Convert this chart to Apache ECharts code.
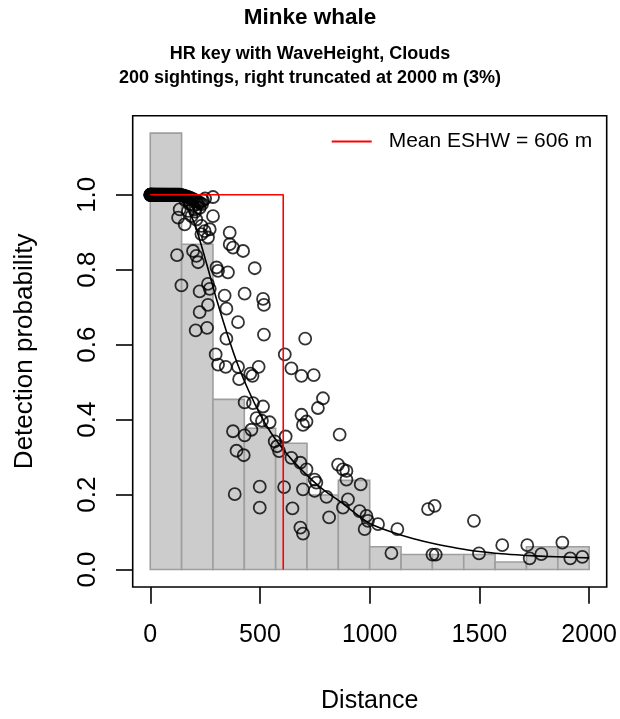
<!DOCTYPE html>
<html>
<head>
<meta charset="utf-8">
<script src="https://cdn.jsdelivr.net/npm/echarts@6/dist/echarts.min.js"></script>
<style>html,body{margin:0;padding:0;background:#fff}#c{width:620px;height:719px}</style>
</head>
<body>
<div id="c"></div>
<script>
// ---- Data ----
var titleText = 'Minke whale';
var subtitleLines = ['HR key with WaveHeight, Clouds', '200 sightings, right truncated at 2000 m (3%)'];
var legendText = 'Mean ESHW = 606 m';
var xTicks = [0, 500, 1000, 1500, 2000];
var yTicks = [0, 0.2, 0.4, 0.6, 0.8, 1.0];

// histogram bins (start, end) and scaled heights
var binStart = [0, 142.86, 285.71, 428.57, 571.43, 714.29, 857.14, 1000, 1142.86, 1285.71, 1428.57, 1571.43, 1714.29, 1857.14];
var binEnd   = [142.86, 285.71, 428.57, 571.43, 714.29, 857.14, 1000, 1142.86, 1285.71, 1428.57, 1571.43, 1714.29, 1857.14, 2000];
var binHeight = [1.1645, 0.868, 0.454, 0.377, 0.337, 0.199, 0.238, 0.061, 0.040, 0.040, 0.040, 0.020, 0.061, 0.061];

// mean ESHW marker
var eshwX = [0, 606, 606];
var eshwY = [1, 1, 0];

// fitted average detection function
var curveDist = [0, 50, 100, 150, 200, 250, 300, 350, 400, 450, 500, 550, 600, 650, 700, 750, 800, 850, 900, 950, 1000, 1100, 1200, 1300, 1400, 1500, 1600, 1700, 1800, 1900, 2000];
var curveProb = [1.0, 1.0, 0.995, 0.98, 0.925, 0.83, 0.725, 0.63, 0.545, 0.475, 0.415, 0.365, 0.325, 0.29, 0.26, 0.232, 0.208, 0.188, 0.166, 0.143, 0.123, 0.1, 0.082, 0.068, 0.057, 0.048, 0.042, 0.038, 0.035, 0.033, 0.031];

// observed sightings: distance and estimated detection probability
var pointDist = [
 0,0,1,2,3,5,6,8,9,11,13,15,17,19,21,24,26,28,31,33,36,38,41,44,46,49,52,55,58,61,64,67,70,73,77,80,84,88,92,95,99,103,107,111,115,119,123,127,131,136,140,145,150,155,160,165,170,175,181,187,193,199,206,213,220,228,236,
 180,195,215,240,250,225,160,205,
 286,286,127,157,134,172,203,188,210,233,248,271,233,263,362,362,377,423,476,122,195,210,218,302,309,354,142,225,263,271,339,430,514,225,263,207,259,347,518,400,518,347,298,309,344,400,405,456,466,494,613,706,643,689,430,468,514,484,509,544,377,430,461,393,426,567,578,587,617,643,684,712,689,696,712,745,787,764,863,856,878,894,749,757,749,696,894,959,803,815,901,878,954,985,992,977,1038,1126,1099,1266,1296,1286,1301,1475,1498,1604,1718,1729,1782,1878,1914,1969,385,499,499,610,648,684,696
];
var pointProb = [
 1,1,1,1,1,1,1,1,1,1,1,1,1,1,1,1,1,1,1,1,1,1,1,1,1,1,1,1,1,1,1,1,1,1,1,1,1,1,1,1,1,1,1,1,1,1,1,1,1,1,0.999,0.998,0.998,0.997,0.996,0.995,0.994,0.993,0.992,0.99,0.989,0.987,0.985,0.983,0.98,0.978,0.975,
 0.975,0.97,0.975,0.985,0.99,0.965,0.985,0.955,
 0.994,0.943,0.939,0.921,0.961,0.957,0.961,0.943,0.934,0.917,0.903,0.908,0.895,0.886,0.899,0.868,0.859,0.85,0.804,0.839,0.85,0.837,0.82,0.806,0.797,0.793,0.758,0.742,0.762,0.749,0.731,0.736,0.722,0.687,0.706,0.638,0.645,0.696,0.706,0.66,0.627,0.616,0.574,0.547,0.541,0.541,0.508,0.523,0.517,0.541,0.574,0.616,0.537,0.517,0.446,0.444,0.435,0.404,0.397,0.393,0.369,0.358,0.373,0.317,0.305,0.342,0.329,0.316,0.355,0.298,0.285,0.267,0.413,0.386,0.395,0.519,0.457,0.431,0.36,0.28,0.267,0.263,0.24,0.232,0.21,0.214,0.24,0.227,0.194,0.139,0.187,0.165,0.156,0.143,0.13,0.108,0.121,0.108,0.044,0.161,0.17,0.04,0.04,0.13,0.043,0.065,0.065,0.03,0.041,0.072,0.03,0.034,0.201,0.221,0.165,0.22,0.163,0.112,0.096
];

// ---- Build chart ----
var FONT = 'Liberation Sans, Arial, Helvetica, sans-serif';
var histData = binStart.map(function (s, i) { return [s, binEnd[i], binHeight[i]]; });
var points = pointDist.map(function (d, i) { return [d, pointProb[i]]; });
var curve = curveDist.map(function (d, i) { return [d, curveProb[i]]; });
var eshw = eshwX.map(function (d, i) { return [d, eshwY[i]]; });

var chart = echarts.init(document.getElementById('c'), null, {renderer: 'canvas'});
chart.setOption({
  animation: false,
  backgroundColor: '#ffffff',
  title: [
    {text: titleText, left: 'center', top: 1,
     textStyle: {fontFamily: FONT, fontSize: 22.5, fontWeight: 'bold', color: '#000'}},
    {text: subtitleLines[0], left: 'center', top: 45, padding: 0,
     textStyle: {fontFamily: FONT, fontSize: 18, fontWeight: 'bold', color: '#000'}},
    {text: subtitleLines[1], left: 'center', top: 69, padding: 0,
     textStyle: {fontFamily: FONT, fontSize: 18, fontWeight: 'bold', color: '#000'}}
  ],
  legend: {
    data: [legendText],
    left: 331.7, top: 131, padding: 0,
    icon: 'rect', itemWidth: 40, itemHeight: 2,
    textStyle: {fontFamily: FONT, fontSize: 21, color: '#000', padding: [0, 0, 0, 12]},
    selectedMode: false
  },
  grid: {left: 132.7, top: 115.7, width: 474, height: 473.3, show: true, borderColor: '#000', borderWidth: 1.6, containLabel: false},
  xAxis: {
    type: 'value', min: -80, max: 2080,
    name: 'Distance', nameLocation: 'middle', nameGap: 102,
    nameTextStyle: {fontFamily: FONT, fontSize: 25, color: '#000'},
    axisLine: {show: false, onZero: false},
    splitLine: {show: false},
    axisTick: {show: true, customValues: xTicks, length: 16.7, lineStyle: {color: '#000', width: 1.6}},
    axisLabel: {customValues: xTicks, margin: 36, fontFamily: FONT, fontSize: 25, color: '#000',
      formatter: function (v) { return String(v); }}
  },
  yAxis: {
    type: 'value', min: -0.0466, max: 1.211,
    name: 'Detection probability', nameLocation: 'middle', nameGap: 95, nameRotate: 90,
    nameTextStyle: {fontFamily: FONT, fontSize: 26, color: '#000'},
    axisLine: {show: false, onZero: false},
    splitLine: {show: false},
    axisTick: {show: true, customValues: yTicks, length: 16.7, lineStyle: {color: '#000', width: 1.6}},
    axisLabel: {customValues: yTicks, rotate: 90, margin: 32, fontFamily: FONT, fontSize: 26, color: '#000',
      formatter: function (v) { return v.toFixed(1); }}
  },
  series: [
    {
      type: 'custom', name: 'hist', silent: true,
      data: histData,
      encode: {x: [0, 1], y: 2},
      renderItem: function (params, api) {
        var p0 = api.coord([api.value(0), api.value(2)]);
        var p1 = api.coord([api.value(1), 0]);
        return {type: 'rect', shape: {x: p0[0], y: p0[1], width: p1[0] - p0[0], height: p1[1] - p0[1]},
          style: {fill: '#cccccc', stroke: '#9e9e9e', lineWidth: 1.6}};
      },
      z: 1
    },
    {
      type: 'scatter', name: 'obs', data: points, symbol: 'circle', symbolSize: 12,
      itemStyle: {color: 'rgba(0,0,0,0)', borderColor: '#000', borderWidth: 1.8},
      z: 2, silent: true
    },
    {
      type: 'line', name: 'fit', data: curve, smooth: 0.3, showSymbol: false, symbol: 'none',
      lineStyle: {color: '#000', width: 1.6}, z: 3, silent: true
    },
    {
      type: 'line', name: legendText, data: eshw, showSymbol: false, symbol: 'none',
      lineStyle: {color: '#ff0000', width: 1.6}, itemStyle: {color: '#ff0000'}, z: 4, silent: true
    }
  ]
});
</script>
</body>
</html>
